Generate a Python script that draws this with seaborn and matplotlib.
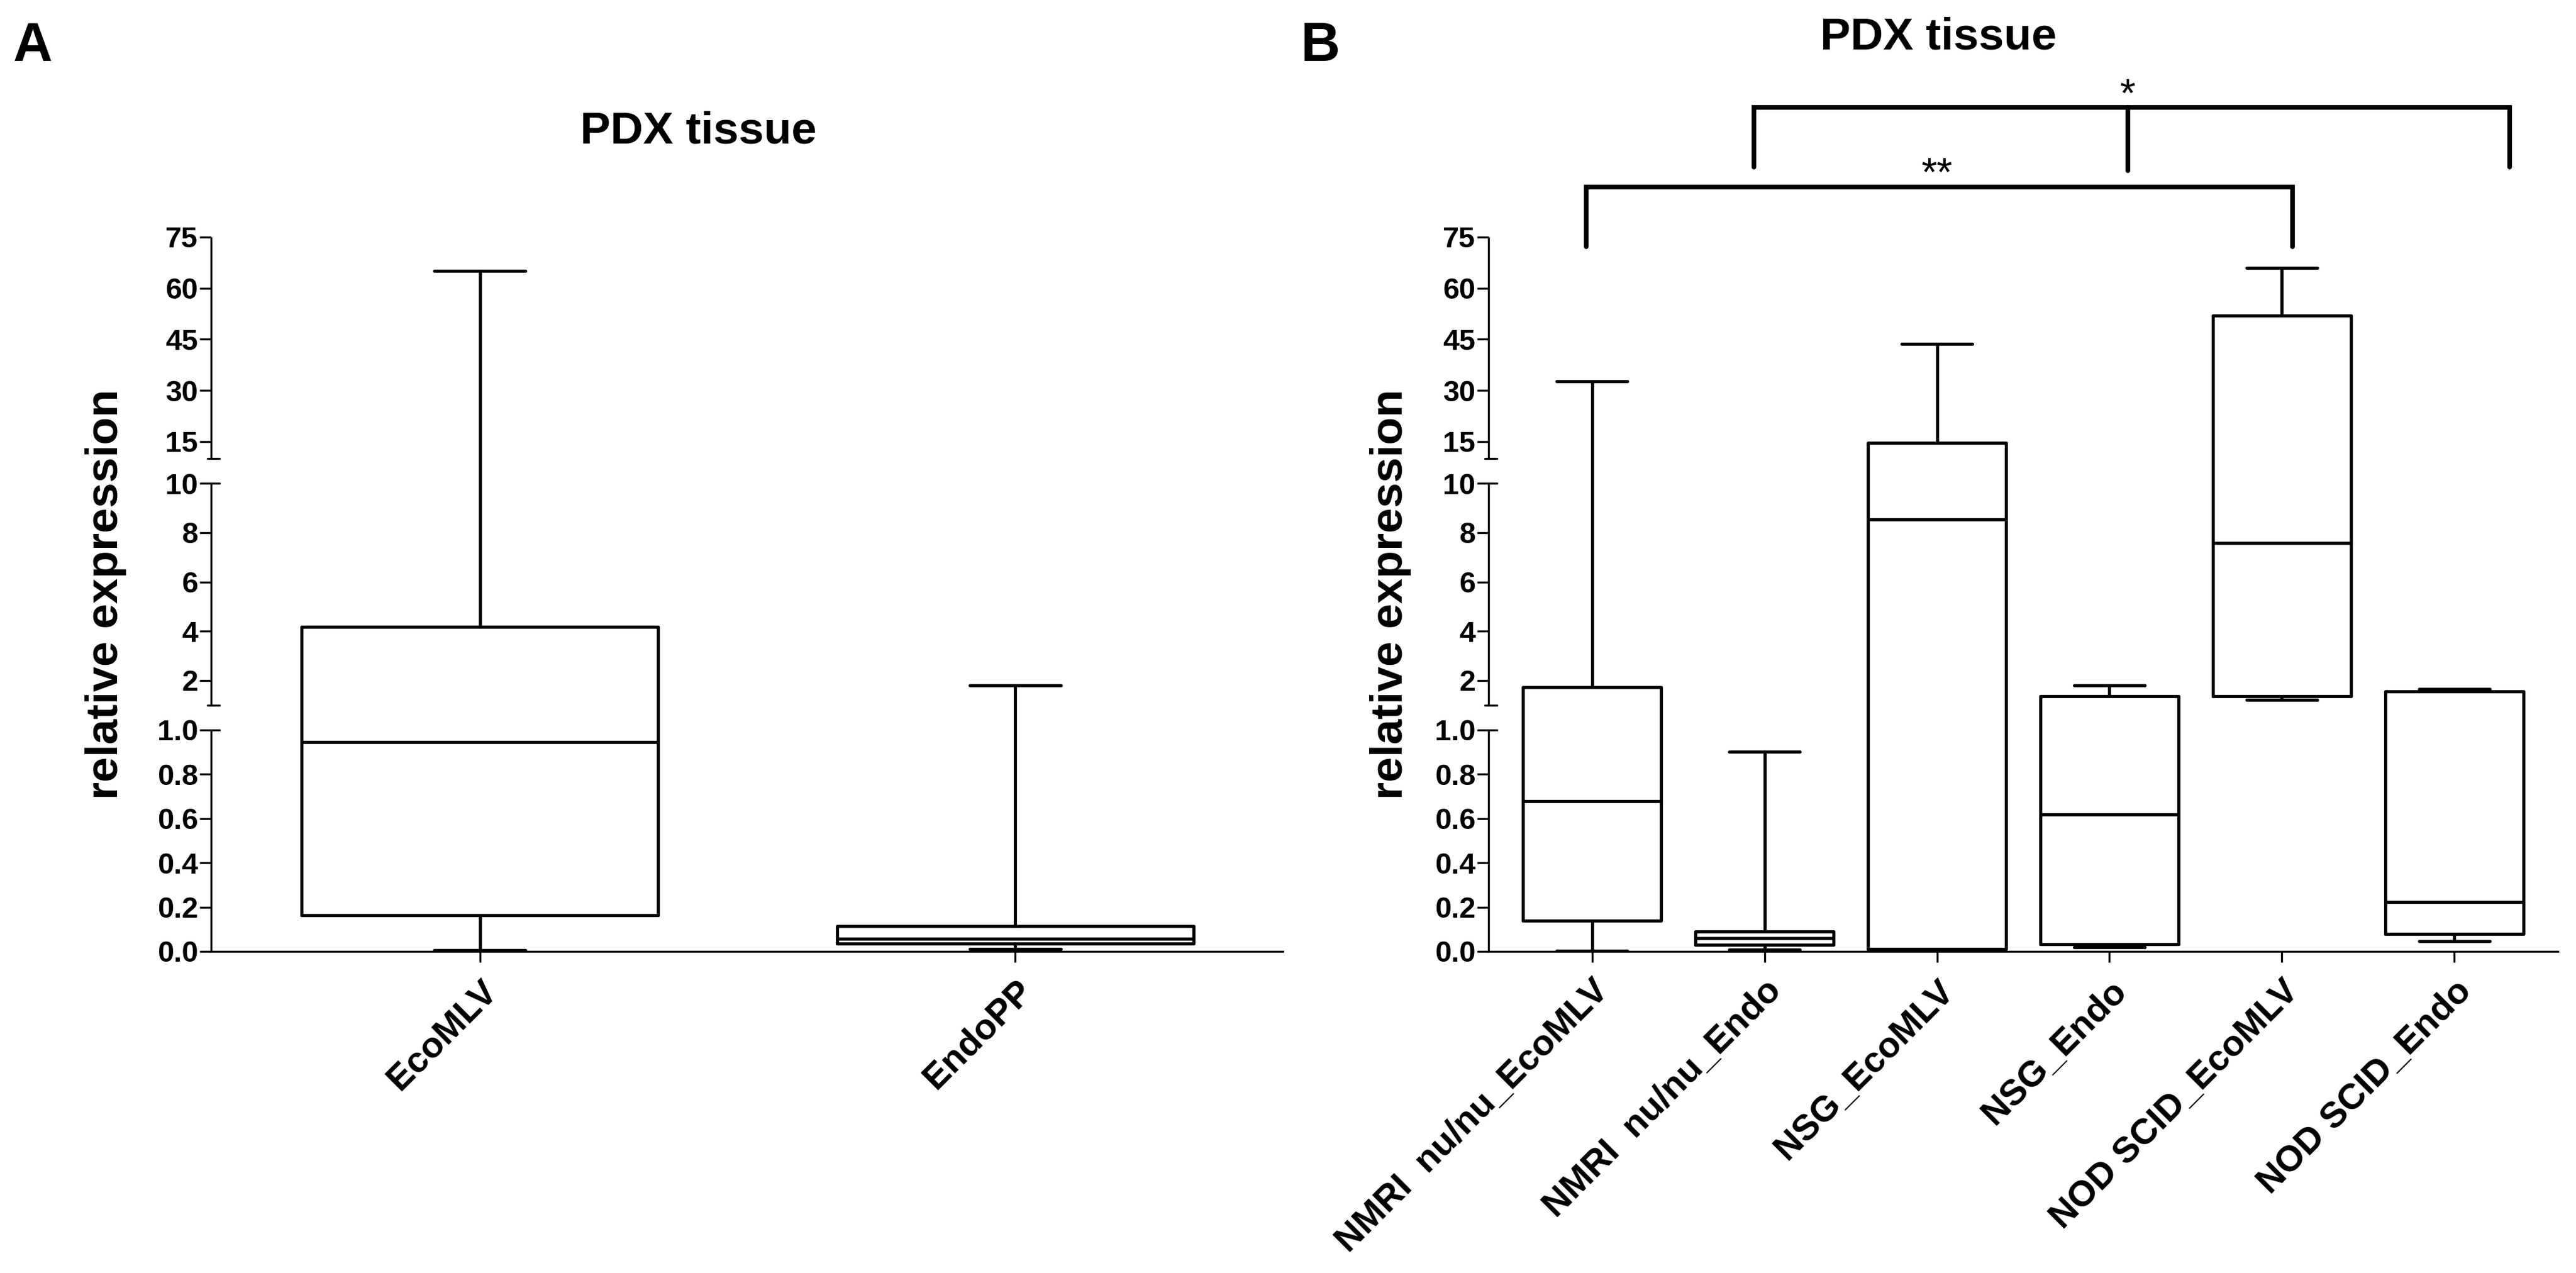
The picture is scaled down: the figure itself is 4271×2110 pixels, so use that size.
import numpy as np
import pandas as pd
import matplotlib
matplotlib.use("Agg")
import matplotlib.pyplot as plt
import matplotlib.transforms as mtransforms
import seaborn as sns

# ---------------------------------------------------------------------------
# Five-number summaries: min, Q1, median, Q3, max
# ---------------------------------------------------------------------------
groups_a = ["EcoMLV", "EndoPP"]
min_a = [0.005, 0.010]
q1_a = [0.164, 0.035]
med_a = [0.945, 0.058]
q3_a = [4.18, 0.115]
max_a = [65.0, 1.80]

groups_b = ["NMRI  nu/nu_EcoMLV", "NMRI  nu/nu_Endo", "NSG_EcoMLV",
            "NSG_Endo", "NOD SCID_EcoMLV", "NOD SCID_Endo"]
min_b = [0.003, 0.009, 0.005, 0.020, 1.20, 0.046]
q1_b = [0.138, 0.029, 0.010, 0.034, 1.36, 0.078]
med_b = [0.678, 0.060, 8.53, 0.618, 7.58, 0.224]
q3_b = [1.72, 0.089, 14.6, 1.36, 51.9, 1.55]
max_b = [32.7, 0.902, 43.7, 1.79, 65.9, 1.64]

yticks = [0, 0.2, 0.4, 0.6, 0.8, 1.0, 2, 4, 6, 8, 10, 15, 30, 45, 60, 75]
ytick_labels = ["0.0", "0.2", "0.4", "0.6", "0.8", "1.0",
                "2", "4", "6", "8", "10", "15", "30", "45", "60", "75"]


def long_form(groups, *stats):
    rows = []
    for i, g in enumerate(groups):
        for s in stats:
            rows.append((g, s[i]))
    return pd.DataFrame(rows, columns=["group", "value"])


df_a = long_form(groups_a, min_a, q1_a, med_a, q3_a, max_a)
df_b = long_form(groups_b, min_b, q1_b, med_b, q3_b, max_b)

# broken y axis: 0-1, 1-10, 10-75 each get the same height, with a gap G
G = 41 / 366
TOT = 3 + 2 * G


def fwd(v):
    v = np.asarray(v, dtype=float)
    return np.where(v <= 1, v,
                    np.where(v <= 10, 1 + G + (v - 1) / 9,
                             2 + 2 * G + (v - 10) / 65))


def inv(u):
    u = np.asarray(u, dtype=float)
    return np.where(u <= 1, u,
           np.where(u <= 1 + G, 1.0,
           np.where(u <= 2 + G, 1 + (u - 1 - G) * 9,
           np.where(u <= 2 + 2 * G, 10.0, 10 + (u - 2 - 2 * G) * 65))))


sns.set_style("white")
plt.rcParams["font.family"] = ["Liberation Sans", "DejaVu Sans"]
plt.rcParams.update({"text.color": "black", "axes.labelcolor": "black",
                     "xtick.color": "black", "ytick.color": "black",
                     "axes.edgecolor": "black"})

fig = plt.figure(figsize=(42.71, 21.10), dpi=100)
ax_a = fig.add_axes([0.08195, 0.25261, 0.41606, 0.56114])
ax_b = fig.add_axes([0.57785, 0.25261, 0.41513, 0.56114])

LW = 3.8
AX_LW = 2.4


def draw_panel(ax, data, order, width, capw, xlim, ylab_x):
    sns.boxplot(data=data, x="group", y="value", order=order, ax=ax,
                color="black", fill=False, linewidth=LW, width=width,
                whis=(0, 100), capwidths=capw)
    ax.set_yscale("function", functions=(fwd, inv))
    ax.set_ylim(0, 75)
    ax.set_xlim(*xlim)
    ax.set_yticks(yticks)
    ax.set_yticklabels(ytick_labels)
    ax.set_xlabel("")
    ax.set_ylabel("relative expression", fontsize=54, fontweight="bold")
    ax.yaxis.set_label_coords(ylab_x, 0.5)
    for s in ["top", "right", "left"]:
        ax.spines[s].set_visible(False)
    ax.spines["bottom"].set_linewidth(AX_LW)
    ax.tick_params(axis="y", direction="out", length=14, width=AX_LW, pad=1.5,
                   labelsize=35, left=True)
    ax.tick_params(axis="x", direction="out", length=13, width=AX_LW, pad=14,
                   labelsize=43, bottom=True)
    for lab in ax.get_yticklabels():
        lab.set_fontweight("bold")
    for lab in ax.get_xticklabels():
        lab.set_fontweight("bold")
        lab.set_rotation(45)
        lab.set_ha("right")
        lab.set_va("top")
        lab.set_rotation_mode("anchor")

    # segmented left axis with the break caps
    stub_r = 14 / (ax.get_position().width * 4271)
    stub_l = 6 / (ax.get_position().width * 4271)
    lo = [0, 1 + G, 2 + 2 * G]
    hi = [1, 2 + G, 3 + 2 * G]
    for i in range(3):
        ax.plot([0, 0], [lo[i] / TOT, hi[i] / TOT], color="black", lw=AX_LW,
                transform=ax.transAxes, clip_on=False, solid_capstyle="butt")
        if i > 0:
            ax.plot([-stub_l, stub_r], [lo[i] / TOT] * 2, color="black",
                    lw=AX_LW, transform=ax.transAxes, clip_on=False)
        if i < 2:
            ax.plot([0, stub_r], [hi[i] / TOT] * 2, color="black", lw=AX_LW,
                    transform=ax.transAxes, clip_on=False)


draw_panel(ax_a, df_a, groups_a, 0.666, 0.17, (-0.502, 1.50), -0.079)
draw_panel(ax_b, df_b, groups_b, 0.80, 0.41, (-0.60, 5.60), -0.072)

# significance brackets
trans = mtransforms.blended_transform_factory(ax_b.transData, ax_b.transAxes)
br_kw = dict(color="black", lw=5.5, transform=trans, clip_on=False,
             solid_capstyle="round", solid_joinstyle="miter")
# '**' bracket
ax_b.plot([-0.035, -0.035, 4.06, 4.06], [0.9865, 1.0701, 1.0701, 0.9865], **br_kw)
ax_b.text(2.0, 1.072, "**", transform=trans, ha="center", va="baseline",
          fontsize=48)
# '*' bracket
ax_b.plot([0.94, 0.94, 5.32, 5.32], [1.098, 1.1816, 1.1816, 1.098], **br_kw)
ax_b.plot([3.105, 3.105], [1.1816, 1.0929], **br_kw)
ax_b.text(3.105, 1.183, "*", transform=trans, ha="center", va="baseline",
          fontsize=48)

# titles and panel letters
fig.text(1158 / 4271, 1 - 237 / 2110, "PDX tissue", ha="center", va="baseline",
         fontsize=54, fontweight="bold")
fig.text(3214 / 4271, 1 - 81 / 2110, "PDX tissue", ha="center", va="baseline",
         fontsize=54, fontweight="bold")
fig.text(22 / 4271, 1 - 101 / 2110, "A", ha="left", va="baseline",
         fontsize=65, fontweight="bold")
fig.text(2157 / 4271, 1 - 101 / 2110, "B", ha="left", va="baseline",
         fontsize=65, fontweight="bold")

fig.savefig("out.png", dpi=100, facecolor="white")
